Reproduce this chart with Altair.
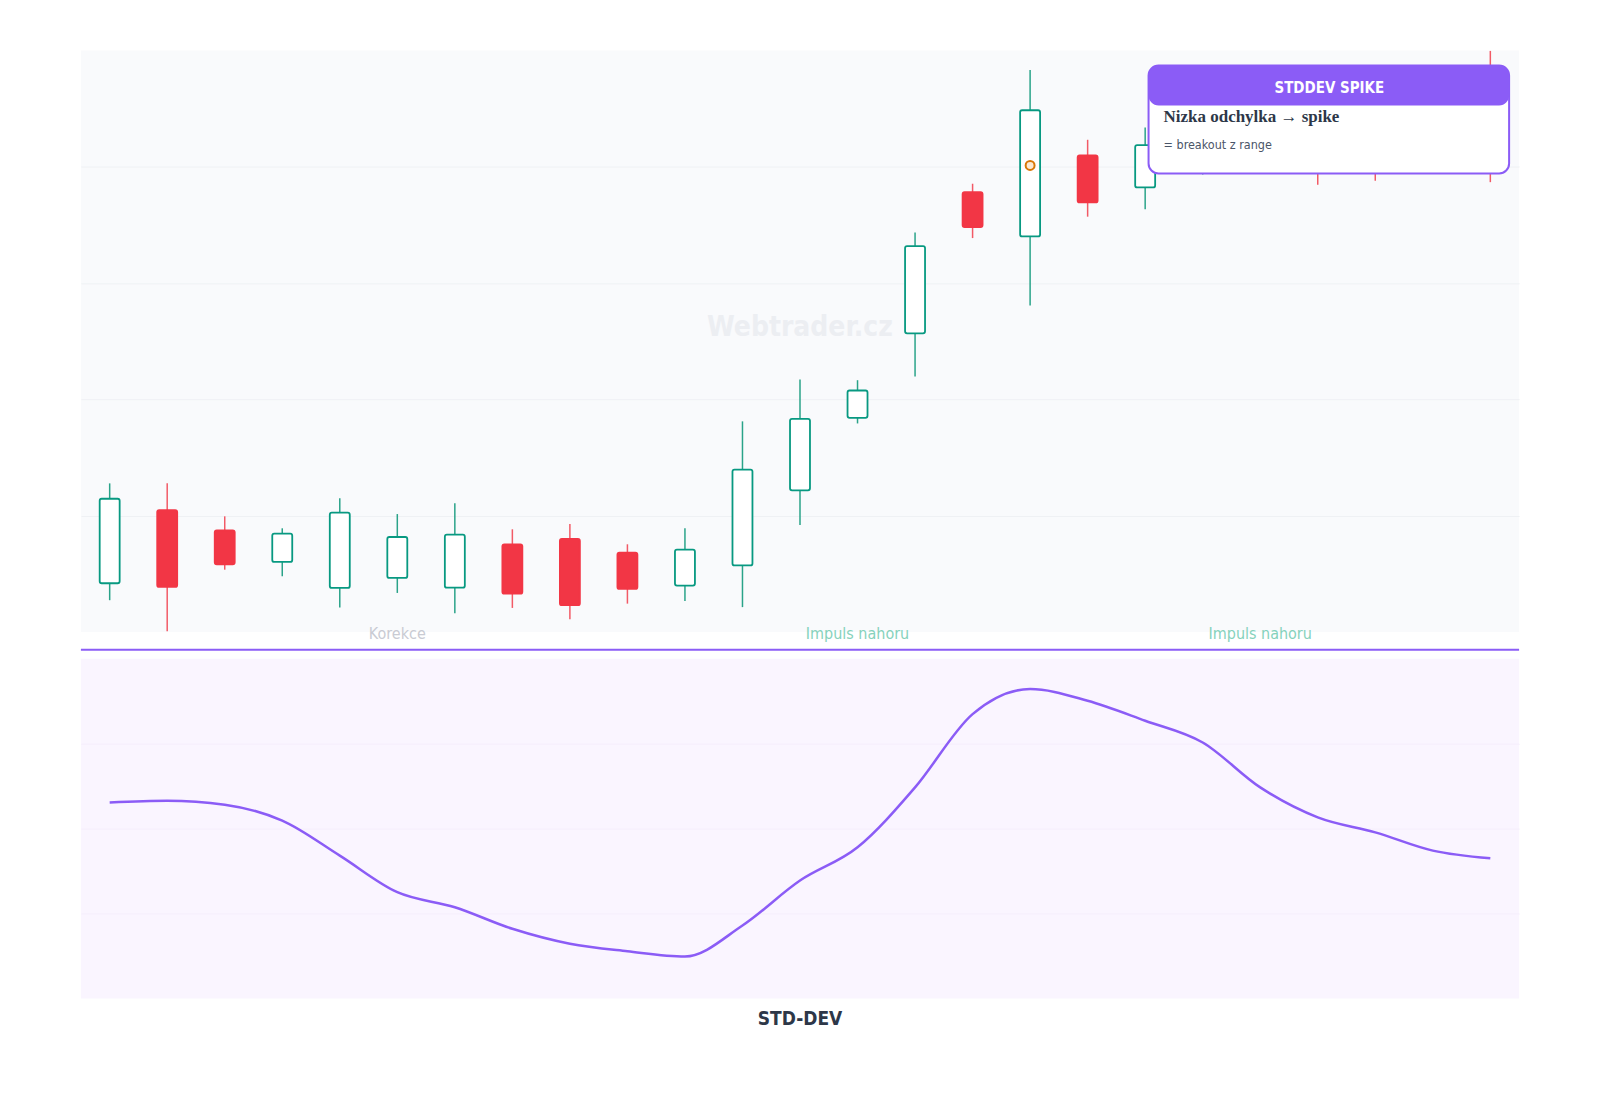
import altair as alt
import pandas as pd

# candle index 0..24, values on an arbitrary 0-100 price scale
idx = list(range(25))
opens = [8.37, 20.96, 17.47, 12.03, 7.56, 9.28, 7.61, 15.07, 15.98, 13.63, 7.96, 11.43, 24.35,
         36.82, 51.37, 75.65, 68.04, 81.96, 76.46, 80.93, 82.65, 88.14, 87.46, 82.65, 95.53]
highs = [25.55, 25.55, 19.88, 17.82, 22.97, 20.27, 22.11, 17.65, 18.56, 15.07, 17.82, 36.22, 43.42,
         43.30, 68.73, 77.10, 96.68, 84.66, 86.77, 89.52, 92.10, 90.38, 91.24, 94.67, 99.95]
lows = [5.45, 0.12, 10.70, 9.57, 4.18, 6.70, 3.21, 4.12, 2.18, 4.86, 5.33, 4.26, 18.38,
        35.86, 43.93, 67.75, 56.13, 71.43, 72.73, 78.69, 79.55, 76.92, 77.61, 79.55, 77.37]
closes = [22.90, 7.73, 11.63, 16.89, 20.50, 16.32, 16.72, 6.58, 4.59, 7.39, 14.14, 27.92, 36.65,
          41.53, 66.37, 69.64, 89.74, 73.88, 83.73, 86.94, 89.18, 80.07, 80.93, 91.24, 81.27]

stddev = [23.09, 23.29, 22.82, 20.94, 16.82, 12.51, 10.74, 8.20, 6.44, 5.56, 4.94, 8.59, 13.88,
          17.80, 24.86, 33.49, 36.44, 35.06, 32.71, 30.15, 24.86, 21.33, 19.56, 17.41, 16.50]

phase_idx = [5, 13, 20]
phase_labels = ["Korekce", "Impuls nahoru", "Impuls nahoru"]
phase_colors = ["#c9cbd3", "#86d2bc", "#86d2bc"]

spike_idx = [16]
spike_value = [80.24]

GREEN = "#089981"
RED = "#f23645"
PURPLE = "#8b5cf6"
COND = "'Liberation Sans Narrow', 'DejaVu Sans Condensed', 'Roboto', sans-serif"
SERIF = "'Liberation Serif', 'DejaVu Serif', serif"

W = 1440
H_TOP = 582
H_BOT = 340

df = pd.DataFrame({"i": idx, "open": opens, "high": highs, "low": lows, "close": closes})
df["dir"] = ["up" if c >= o else "down" for o, c in zip(opens, closes)]

x = alt.X("i:Q", scale=alt.Scale(domain=[-0.5, 24.5], nice=False, zero=False, padding=0), axis=None)
y_price = alt.Y(
    "low:Q",
    scale=alt.Scale(domain=[0, 100], nice=False, zero=False),
    axis=alt.Axis(values=[20, 40, 60, 80], labels=False, ticks=False, domain=False,
                  title=None, gridColor="#eff1f4", gridWidth=1),
)

base = alt.Chart(df)

wicks = base.mark_rule(strokeWidth=1.5).encode(
    x=x,
    y=y_price,
    y2="high:Q",
    color=alt.Color("dir:N", scale=alt.Scale(domain=["up", "down"], range=["#2aa389", "#f25a66"]), legend=None),
)

bodies = base.mark_bar(width=20, cornerRadius=2, strokeWidth=1.8).encode(
    x=x,
    y="open:Q",
    y2="close:Q",
    fill=alt.Fill("dir:N", scale=alt.Scale(domain=["up", "down"], range=["#ffffff", RED]), legend=None),
    stroke=alt.Stroke("dir:N", scale=alt.Scale(domain=["up", "down"], range=[GREEN, RED]), legend=None),
)

spike = alt.Chart(pd.DataFrame({"i": spike_idx, "v": spike_value})).mark_point(
    shape="circle", size=80, filled=False, strokeWidth=2, color="#d97706", fill="#fde9d2", fillOpacity=1
).encode(x=x, y="v:Q")

phases = alt.Chart(pd.DataFrame({"i": phase_idx, "label": phase_labels, "c": phase_colors})).mark_text(
    font=COND, fontSize=16, baseline="middle", align="center"
).encode(x=x, y=alt.value(584), text="label:N", color=alt.Color("c:N", scale=None))

one = pd.DataFrame({"a": [0]})

watermark = alt.Chart(one).mark_text(
    text="Webtrader.cz", font=COND, fontSize=28, fontWeight="bold", color="#eceef2",
    align="center", baseline="middle"
).encode(x=alt.value(W / 2), y=alt.value(278))

separator = alt.Chart(one).mark_rule(color=PURPLE, strokeWidth=2).encode(
    x=alt.value(0), x2=alt.value(W), y=alt.value(600)
)

box = alt.Chart(one).mark_rect(fill="#ffffff", stroke=PURPLE, strokeWidth=2, cornerRadius=10).encode(
    x=alt.value(1069), x2=alt.value(1430), y=alt.value(15), y2=alt.value(123)
)
header = alt.Chart(one).mark_rect(fill=PURPLE, cornerRadius=10).encode(
    x=alt.value(1069), x2=alt.value(1430), y=alt.value(15), y2=alt.value(55)
)
header_text = alt.Chart(one).mark_text(
    text="STDDEV SPIKE", font=COND, fontSize=15, fontWeight="bold", color="#ffffff",
    align="center", baseline="middle"
).encode(x=alt.value(1250), y=alt.value(37))
line1 = alt.Chart(one).mark_text(
    text="Nizka odchylka → spike", font=SERIF, fontSize=17, fontWeight="bold", color="#2d3748",
    align="left", baseline="middle"
).encode(x=alt.value(1084), y=alt.value(66))
line2 = alt.Chart(one).mark_text(
    text="= breakout z range", font=COND, fontSize=12.5, color="#4a5568",
    align="left", baseline="middle"
).encode(x=alt.value(1084), y=alt.value(95))

top = alt.layer(
    watermark, wicks, bodies, spike, phases, separator, box, header, header_text, line1, line2
).properties(width=W, height=H_TOP, view=alt.ViewBackground(fill="#f9fafc", strokeWidth=0))

sd = pd.DataFrame({"i": idx, "sd": stddev})
sd_line = alt.Chart(sd).mark_line(color=PURPLE, strokeWidth=2.5, interpolate="monotone").encode(
    x=x,
    y=alt.Y("sd:Q", scale=alt.Scale(domain=[0, 40], nice=False, zero=False),
            axis=alt.Axis(values=[10, 20, 30], labels=False, ticks=False, domain=False,
                          title=None, gridColor="#f5eefc", gridWidth=1)),
)
sd_title = alt.Chart(one).mark_text(
    text="STD-DEV", font=COND, fontSize=19, fontWeight="bold", color="#2d3748",
    align="center", baseline="middle"
).encode(x=alt.value(W / 2), y=alt.value(361))

bottom = alt.layer(sd_line, sd_title).properties(
    width=W, height=H_BOT, view=alt.ViewBackground(fill="#faf5ff", strokeWidth=0)
)

chart = alt.vconcat(top, bottom, spacing=27, bounds="flush").resolve_scale(
    y="independent", x="independent", color="independent", fill="independent", stroke="independent"
).properties(
    padding={"left": 72, "top": 41, "right": 72, "bottom": 40},
    background="#ffffff",
).configure_view(strokeWidth=0)

chart.save("out.html", embed_options={"renderer": "svg", "actions": False})
